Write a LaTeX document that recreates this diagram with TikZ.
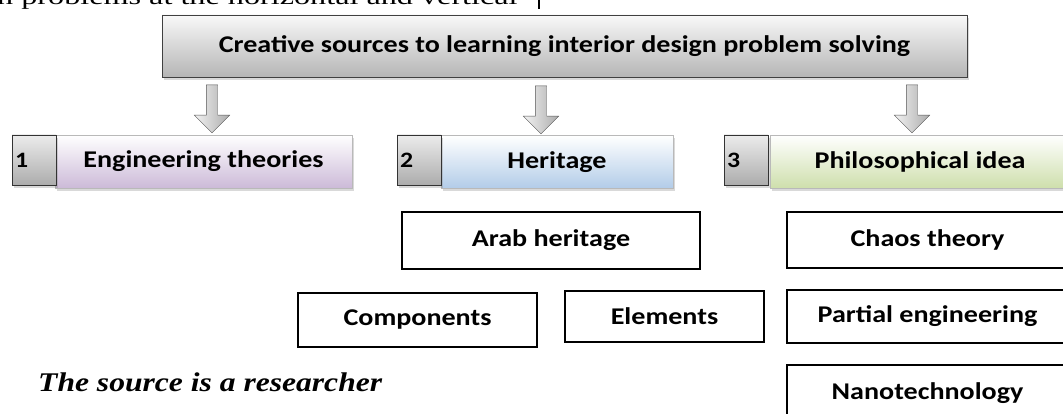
\documentclass[tikz,border=0pt]{standalone}
\usepackage{fontspec}
\setmainfont{Liberation Serif}
\newfontfamily\boxfont[FakeStretch=1.17]{Carlito}
\newfontfamily\pagefont[FakeStretch=1.17]{Liberation Serif}
\newfontfamily\widefont[FakeStretch=1.4]{Liberation Serif}
\usetikzlibrary{shapes.arrows,shadows}

\definecolor{lavbot}{RGB}{204,186,216}
\definecolor{bluebot}{RGB}{178,204,232}
\definecolor{greenbot}{RGB}{206,223,172}

\begin{document}
\begin{tikzpicture}[x=1pt,y=-1pt,
    bigtext/.style={font=\boxfont\bfseries\fontsize{24}{28}\selectfont},
    headbox/.style={bigtext, draw=gray!50!black, top color=gray!5, bottom color=gray!58,
      drop shadow={opacity=.3, shadow xshift=2pt, shadow yshift=-3pt}},
    catbox/.style={bigtext, draw=gray!55, top color=white, minimum height=53pt, inner sep=0pt,
      drop shadow={opacity=.3, shadow xshift=2pt, shadow yshift=-3pt}},
    numbox/.style={draw=gray!40!black, top color=gray!15, bottom color=gray!65,
      minimum width=44pt, minimum height=50pt, inner sep=0pt,
      drop shadow={opacity=.3, shadow xshift=2pt, shadow yshift=-3pt}},
    numtext/.style={font=\boxfont\bfseries\fontsize{22}{26}\selectfont, anchor=west, inner sep=0pt},
    subbox/.style={bigtext, draw=black, line width=1.3pt, fill=white, inner sep=0pt},
    blockarr/.style={single arrow, draw=gray!65!black, left color=gray!10, right color=gray!65,
      minimum height=48pt, inner sep=0pt, inner ysep=5.5pt, single arrow head extend=12pt,
      single arrow tip angle=90, rotate=-90}]
  \useasboundingbox (0,0) rectangle (1063,414);

  % cut-off page text above the figure
  \node[anchor=base west, inner sep=0pt, font=\widefont\fontsize{23}{27}\selectfont] (pageline) at (-3,5) {n problems at the horizontal and vertical};
  \draw[line width=1.5pt] (539,0) -- (539,9);

  % title
  \node[headbox, minimum width=805pt, minimum height=62pt] (title) at (564.5,46) {Creative sources to learning interior design problem solving};

  % down arrows
  \node[blockarr] (arrA) at (212,106) {};
  \node[blockarr] (arrB) at (541,107) {};
  \node[blockarr] (arrC) at (912,106) {};

  % three sources
  \node[catbox, bottom color=lavbot, minimum width=297pt] (eng) at (203.5,161.5) {Engineering theories};
  \node[numbox] (num1) at (34,160) {};
  \node[numtext] at ([xshift=3pt]num1.west) {1};

  \node[catbox, bottom color=bluebot, minimum width=232pt] (her) at (557,162) {Heritage};
  \node[numbox] (num2) at (419,160) {};
  \node[numtext] at ([xshift=3pt]num2.west) {2};

  \node[catbox, bottom color=greenbot, minimum width=300pt] (phil) at (920,161.5) {Philosophical idea};
  \node[numbox] (num3) at (746,160) {};
  \node[numtext] at ([xshift=3pt]num3.west) {3};

  % heritage items
  \node[subbox, minimum width=298pt, minimum height=57pt] (arab) at (551,240.5) {Arab heritage};
  \node[subbox, minimum width=239pt, minimum height=54pt] (comp) at (417.5,320) {Components};
  \node[subbox, minimum width=199pt, minimum height=51pt] (elem) at (664.5,316.5) {Elements};

  % philosophical items
  \node[subbox, minimum width=281pt, minimum height=56pt] (chaos) at (927.5,240) {Chaos theory};
  \node[subbox, minimum width=281pt, minimum height=53pt] (partial) at (927.5,316.5) {Partial engineering};
  \node[subbox, minimum width=281pt, minimum height=56pt] (nano) at (927.5,393) {Nanotechnology};

  \node[anchor=base west, inner sep=0pt, font=\pagefont\bfseries\itshape\fontsize{27}{32}\selectfont] (src) at (38,391) {The source is a researcher};
\end{tikzpicture}
\end{document}
